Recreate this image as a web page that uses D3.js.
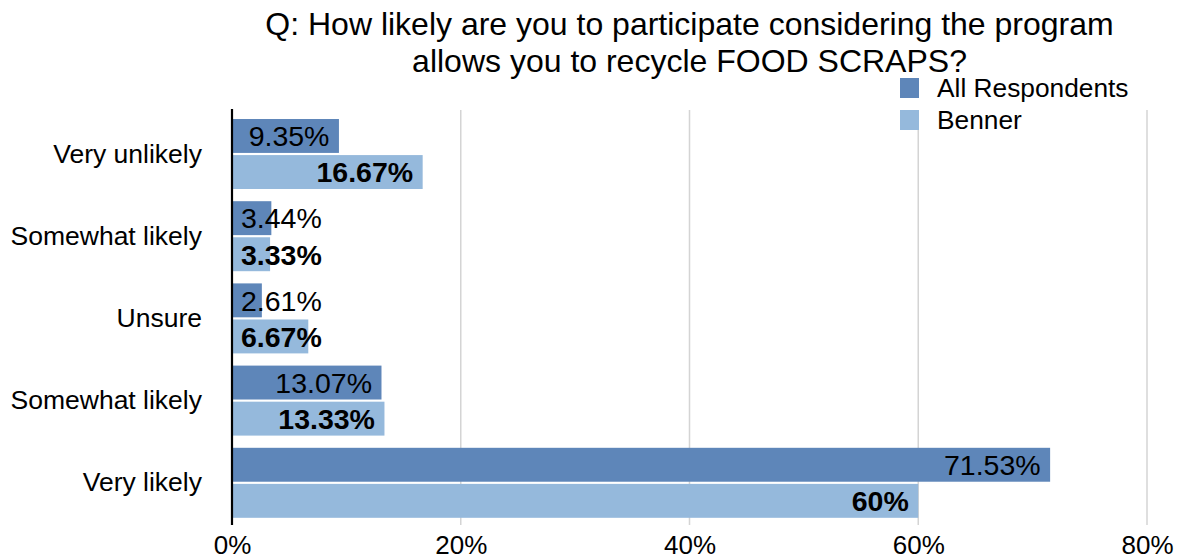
<!DOCTYPE html>
<html>
<head>
<meta charset="utf-8">
<script src="https://cdn.jsdelivr.net/npm/d3@7"></script>
<style>
  html, body { margin: 0; padding: 0; background: #fff; }
  svg { display: block; font-family: "Liberation Sans", Arial, Helvetica, sans-serif; }
</style>
</head>
<body>
<svg id="chart" width="1178" height="560"></svg>
<script>
const titleLines = ["Q: How likely are you to participate considering the program", "allows you to recycle FOOD SCRAPS?"];
const categories = ["Very unlikely", "Somewhat likely", "Unsure", "Somewhat likely", "Very likely"];
const seriesNames = ["All Respondents", "Benner"];
const allRespondents = [9.35, 3.44, 2.61, 13.07, 71.53];
const benner = [16.67, 3.33, 6.67, 13.33, 60];
const valueLabelsAll = ["9.35%", "3.44%", "2.61%", "13.07%", "71.53%"];
const valueLabelsBenner = ["16.67%", "3.33%", "6.67%", "13.33%", "60%"];
const xTicks = [0, 20, 40, 60, 80];
const colors = ["#5e86b9", "#95b9dc"];

const svg = d3.select("#chart");
const x = d3.scaleLinear().domain([0, 80]).range([232, 1147]);
const y = d3.scaleBand().domain(d3.range(categories.length)).range([113, 524]).paddingInner(0);
const ySub = d3.scaleBand().domain([0, 1]).range([6, 76]).paddingInner(0.06);

// gridlines
svg.append("g").selectAll("line").data(xTicks.slice(1)).join("line")
  .attr("x1", d => x(d)).attr("x2", d => x(d))
  .attr("y1", 110).attr("y2", 525)
  .attr("stroke", "#d4d4d4").attr("stroke-width", 1.5);

// x axis tick labels
const xAxis = d3.axisBottom(x).tickValues(xTicks).tickFormat(d => d + "%").tickSize(0).tickPadding(0);
const gx = svg.append("g").attr("transform", "translate(0,535)").call(xAxis);
gx.select(".domain").remove();
gx.selectAll("text").attr("font-size", 26).attr("fill", "#000")
  .attr("font-family", "'Liberation Sans', Arial, sans-serif").attr("dy", "0.72em");

// category labels
const yAxis = d3.axisLeft(y).tickFormat(i => categories[i]).tickSize(0).tickPadding(0);
const gy = svg.append("g").attr("transform", "translate(202,0)").call(yAxis);
gy.select(".domain").remove();
gy.selectAll("text").attr("font-size", 26.5).attr("fill", "#000")
  .attr("font-family", "'Liberation Sans', Arial, sans-serif").attr("dy", "0.32em");

const series = [
  { name: seriesNames[0], values: allRespondents, labels: valueLabelsAll, weight: "normal" },
  { name: seriesNames[1], values: benner, labels: valueLabelsBenner, weight: "bold" }
];

series.forEach((s, si) => {
  const g = svg.append("g");
  g.selectAll("rect").data(s.values).join("rect")
    .attr("x", x(0))
    .attr("y", (d, i) => y(i) + ySub(si))
    .attr("width", d => x(d) - x(0))
    .attr("height", ySub.bandwidth())
    .attr("fill", colors[si]);
});

series.forEach((s, si) => {
  const g = svg.append("g");
  g.selectAll("text").data(s.values).join("text")
    .attr("y", (d, i) => y(i) + ySub(si) + ySub.bandwidth() / 2)
    .attr("dy", "0.36em")
    .attr("font-size", 28.5)
    .attr("font-weight", s.weight)
    .attr("fill", "#000")
    .text((d, i) => s.labels[i])
    .each(function(d) {
      const w = this.getComputedTextLength();
      let xEnd = x(d) - 9.5;
      let xStart = xEnd - w;
      if (xStart < x(0) + 9) xStart = x(0) + 9;
      d3.select(this).attr("x", xStart).attr("text-anchor", "start");
    });
});

// vertical axis line
svg.append("line").attr("x1", x(0)).attr("x2", x(0)).attr("y1", 109).attr("y2", 525)
  .attr("stroke", "#000").attr("stroke-width", 2.2);

// title
svg.append("g").selectAll("text").data(titleLines).join("text")
  .attr("x", 689.5).attr("y", (d, i) => 35 + i * 36.5)
  .attr("text-anchor", "middle").attr("font-size", 32).attr("fill", "#000")
  .text(d => d);

// legend
const lg = svg.append("g");
seriesNames.forEach((n, i) => {
  lg.append("rect").attr("x", 900).attr("y", 78 + i * 32).attr("width", 19).attr("height", 20).attr("fill", colors[i]);
  lg.append("text").attr("x", 937).attr("y", 97 + i * 32).attr("font-size", 26.3).attr("fill", "#000").text(n);
});
</script>
</body>
</html>
